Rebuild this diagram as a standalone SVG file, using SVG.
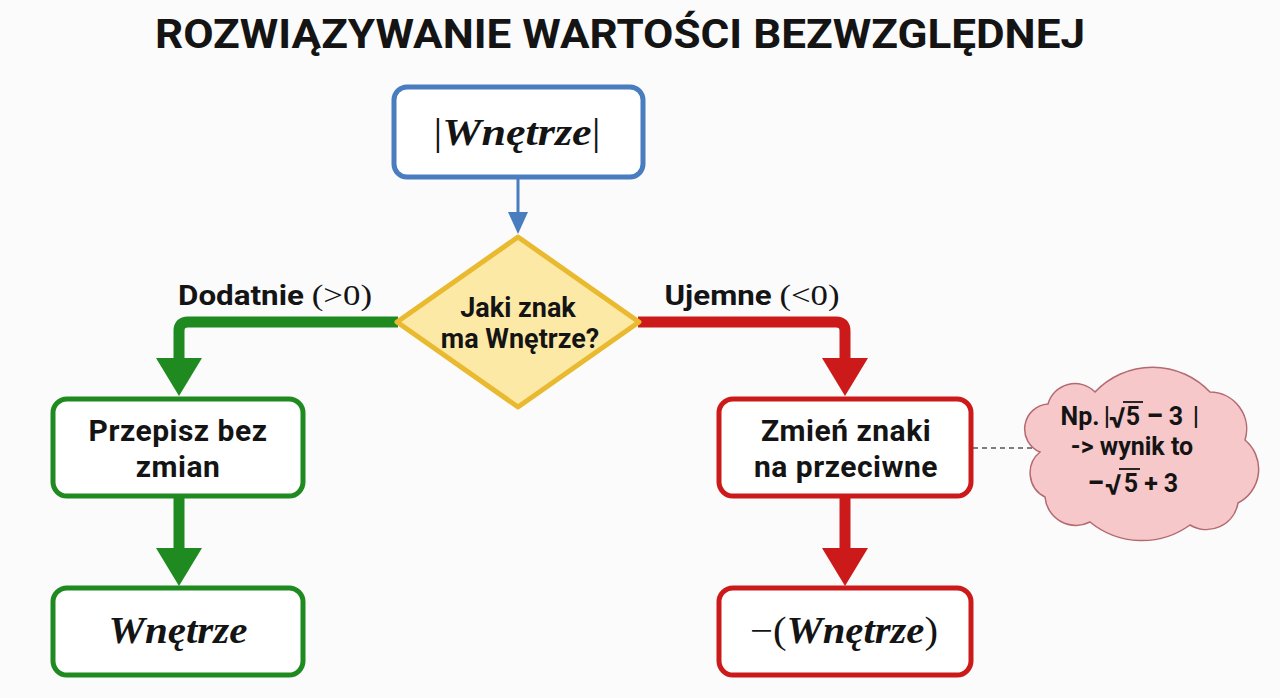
<svg xmlns="http://www.w3.org/2000/svg" width="1280" height="698" viewBox="0 0 1280 698">
<style>
.t{font-family:Roboto,"Liberation Sans",sans-serif;font-weight:700;fill:#141414;text-anchor:middle}
.m{font-family:"Liberation Serif","DejaVu Serif",serif;font-weight:700;font-style:italic;fill:#141414;text-anchor:middle}
.u{font-family:"Liberation Serif","DejaVu Serif",serif;font-weight:400;font-style:normal}
.box{fill:#ffffff;stroke-width:5}
.g{stroke:#1f8a1f}
.r{stroke:#cc1a1a}
.v{stroke:#141414;stroke-width:1.8}
</style>
<rect width="1280" height="698" fill="#fbfbfb"/>
<text class="t" x="620" y="48" font-size="40" textLength="930" lengthAdjust="spacingAndGlyphs">ROZWIĄZYWANIE WARTOŚCI BEZWZGLĘDNEJ</text>

<g id="connectors">
  <line x1="518" y1="178" x2="518" y2="216" stroke="#4a7dc0" stroke-width="3"/>
  <polygon points="508,212 528,212 518,234" fill="#4a7dc0"/>
  <path d="M398 322 H188 Q179 322 179 331 V362" fill="none" stroke="#1f8a1f" stroke-width="11"/>
  <polygon points="156,358 202,358 179,396" fill="#1f8a1f"/>
  <line x1="179" y1="497" x2="179" y2="552" stroke="#1f8a1f" stroke-width="11"/>
  <polygon points="156,548 202,548 179,586" fill="#1f8a1f"/>
  <path d="M638 322 H836 Q845 322 845 331 V362" fill="none" stroke="#cc1a1a" stroke-width="11"/>
  <polygon points="822,358 868,358 845,396" fill="#cc1a1a"/>
  <line x1="845" y1="497" x2="845" y2="552" stroke="#cc1a1a" stroke-width="11"/>
  <polygon points="822,548 868,548 845,586" fill="#cc1a1a"/>
  <line x1="973" y1="448" x2="1040" y2="448" stroke="#555" stroke-width="1.5" stroke-dasharray="5,4"/>
  <text class="t" x="275" y="305" font-size="27" textLength="194" lengthAdjust="spacingAndGlyphs">Dodatnie <tspan class="u" font-size="30">(&gt;0)</tspan></text>
  <text class="t" x="752" y="305" font-size="27" textLength="175" lengthAdjust="spacingAndGlyphs">Ujemne <tspan class="u" font-size="30">(&lt;0)</tspan></text>
</g>

<g id="start">
  <rect x="394" y="87" width="249" height="90" rx="13" class="box" stroke="#4a7dc0" stroke-width="4"/>
  <text class="m" x="517" y="145" font-size="37" textLength="167" lengthAdjust="spacingAndGlyphs"><tspan class="u">|</tspan>Wnętrze<tspan class="u">|</tspan></text>
</g>

<g id="decision">
  <polygon points="518,237 639,322 518,407 397,322" fill="#fde9a6" stroke="#e9b92f" stroke-width="5" stroke-linejoin="round"/>
  <text class="t" x="518" y="317" font-size="27">Jaki znak</text>
  <text class="t" x="520" y="348" font-size="27">ma Wnętrze?</text>
</g>

<g id="positive">
  <rect x="53" y="399" width="250" height="97" rx="14" class="box g"/>
  <text class="t" x="178" y="441" font-size="30" letter-spacing="0.5">Przepisz bez</text>
  <text class="t" x="178" y="477" font-size="30" letter-spacing="0.5">zmian</text>
</g>

<g id="positive-result">
  <rect x="53" y="588" width="250" height="87" rx="14" class="box g"/>
  <text class="m" x="178" y="643" font-size="37" textLength="139" lengthAdjust="spacingAndGlyphs">Wnętrze</text>
</g>

<g id="negative">
  <rect x="719" y="399" width="252" height="97" rx="14" class="box r"/>
  <text class="t" x="846" y="441" font-size="30" letter-spacing="0.5">Zmień znaki</text>
  <text class="t" x="846" y="477" font-size="30" letter-spacing="0.5">na przeciwne</text>
</g>

<g id="negative-result">
  <rect x="719" y="588" width="252" height="87" rx="14" class="box r"/>
  <text class="m" x="844" y="643" font-size="37" textLength="188" lengthAdjust="spacingAndGlyphs"><tspan class="u">−(</tspan>Wnętrze<tspan class="u">)</tspan></text>
</g>

<g id="note">
  <path d="M1040 452 A25 25 0 0 1 1048 404 A28 28 0 0 1 1095 392 A79 79 0 0 1 1210 392 A37 37 0 0 1 1245 440 A38 38 0 0 1 1238 503 A32 32 0 0 1 1190 525 A82 82 0 0 1 1090 522 A31 31 0 0 1 1045 497 A27 27 0 0 1 1040 452 Z" fill="#f6c8ca" stroke="#b36a70" stroke-width="1.5"/>
  <text class="t" x="1080" y="425" font-size="25">Np.</text>
  <text class="t" x="1107" y="425" font-size="25">|</text>
  <text class="t" x="1117" y="428" font-size="29">√</text>
  <line class="v" x1="1123" y1="402" x2="1143" y2="402"/>
  <text class="t" x="1133" y="425" font-size="25">5</text>
  <text class="t" x="1155" y="426" font-size="31">−</text>
  <text class="t" x="1176" y="425" font-size="25">3</text>
  <text class="t" x="1196" y="425" font-size="25">|</text>
  <text class="t" x="1132" y="455" font-size="25">-&gt; wynik to</text>
  <text class="t" x="1096" y="493" font-size="31">−</text>
  <text class="t" x="1113" y="495" font-size="29">√</text>
  <line class="v" x1="1119" y1="469" x2="1140" y2="469"/>
  <text class="t" x="1131" y="492" font-size="25">5</text>
  <text class="t" x="1151" y="492" font-size="25">+</text>
  <text class="t" x="1171" y="492" font-size="25">3</text>
</g>
</svg>
